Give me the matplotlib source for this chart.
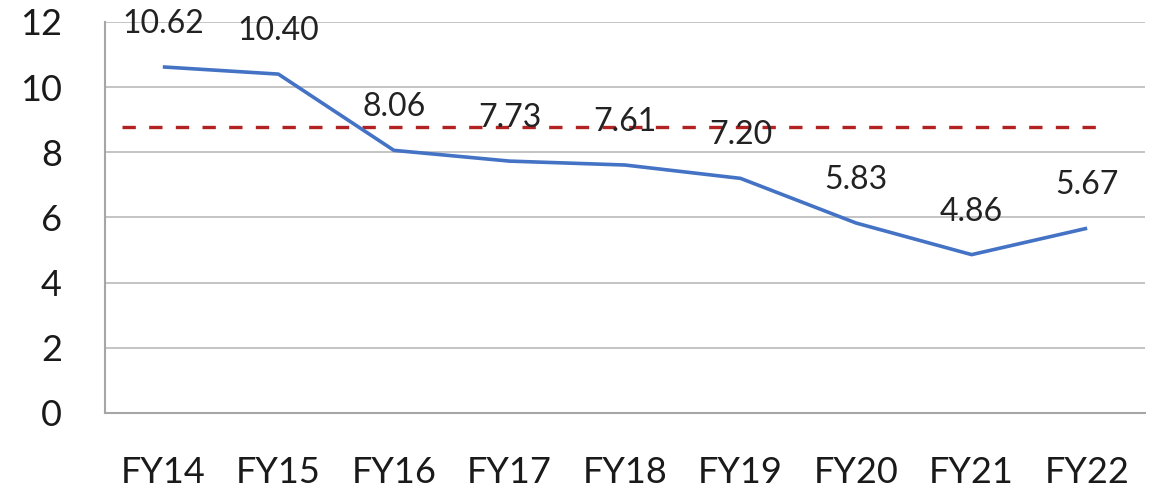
import matplotlib.pyplot as plt
import numpy as np

# data
years = ['FY14', 'FY15', 'FY16', 'FY17', 'FY18', 'FY19', 'FY20', 'FY21', 'FY22']
values = [10.62, 10.40, 8.06, 7.73, 7.61, 7.20, 5.83, 4.86, 5.67]
ref_level = 8.78  # red dashed reference line

plt.rcParams['font.family'] = ['Lato', 'DejaVu Sans']

fig = plt.figure(figsize=(11.53, 4.88), dpi=100)
ax = fig.add_axes([0.0911, 0.1537, 0.9019, 0.8013])

x = np.arange(len(years))
ax.plot(x, values, '-', color='#4472C4', lw=2.6, solid_capstyle='butt', zorder=3)
ax.hlines(ref_level, -0.35, 8.15, colors='#B22222', lw=2.4,
          linestyles=(0, (4, 4)), zorder=2)

# value labels above each point
for xi, v in zip(x, values):
    ax.annotate(f'{v:.2f}', (xi, v), xytext=(0, 31), textcoords='offset points',
                ha='center', va='center', fontsize=23, color='#222222')

ax.set_xlim(-0.5, len(years) - 0.5)
ax.set_ylim(0, 12)
ax.set_yticks(range(0, 13, 2))
ax.set_xticks(x)
ax.set_xticklabels(years)
ax.tick_params(axis='both', length=0, labelsize=26, colors='#1a1a1a')
ax.tick_params(axis='x', pad=31)
ax.tick_params(axis='y', pad=31)

ax.yaxis.grid(True, color='#BFBFBF', lw=1.3)
ax.set_axisbelow(True)
for s in ['top', 'right']:
    ax.spines[s].set_visible(False)
for s in ['left', 'bottom']:
    ax.spines[s].set_color('#A6A6A6')
    ax.spines[s].set_linewidth(1.5)

fig.savefig('out.png', dpi=100)
